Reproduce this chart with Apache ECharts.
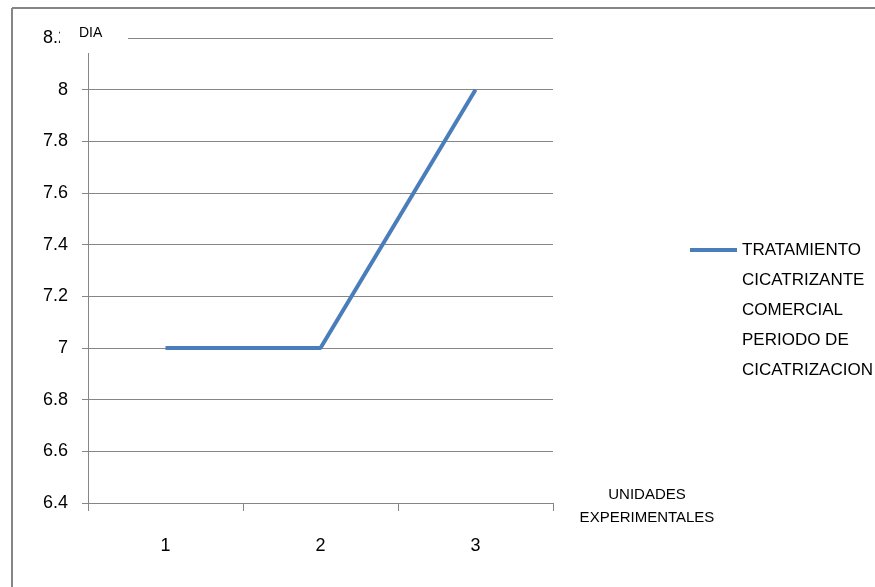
<!DOCTYPE html>
<html>
<head>
<meta charset="utf-8">
<script src="https://cdn.jsdelivr.net/npm/echarts@6/dist/echarts.min.js"></script>
<style>html,body{margin:0;padding:0;background:#fff}#c{width:875px;height:587px}</style>
</head>
<body>
<div id="c"></div>
<script>
var categories = ['1', '2', '3'];
var seriesName = 'TRATAMIENTO\nCICATRIZANTE\nCOMERCIAL\nPERIODO DE\nCICATRIZACION';
var values = [7, 7, 8];
var yMin = 6.4, yMax = 8.2, yStep = 0.2;

var chart = echarts.init(document.getElementById('c'));
var F = 'Liberation Sans, Arial, sans-serif';
chart.setOption({
  animation: false,
  backgroundColor: '#fff',
  grid: { left: 88, right: 322, top: 38, bottom: 84, containLabel: false },
  xAxis: {
    type: 'category', data: categories, boundaryGap: true,
    axisLine: { lineStyle: { color: '#868686', width: 1 } },
    axisTick: { show: true, length: 8, lineStyle: { color: '#868686' } },
    axisLabel: { margin: 34, fontSize: 18, color: '#000', fontFamily: F },
    splitLine: { show: false }
  },
  yAxis: {
    type: 'value', min: yMin, max: yMax, interval: yStep,
    axisLine: { show: true, lineStyle: { color: '#868686', width: 1 } },
    axisTick: { show: true, length: 6, lineStyle: { color: '#868686' } },
    axisLabel: { margin: 20, fontSize: 18, color: '#000', fontFamily: F,
      formatter: function (v) { return String(Math.round(v * 10) / 10); } },
    splitLine: { show: true, lineStyle: { color: '#868686', width: 1 } }
  },
  legend: {
    left: 685, top: 230, orient: 'vertical',
    itemWidth: 47, itemHeight: 150,
    icon: 'path://M0,13L47,13L47,17L0,17Z M0,0L0.01,0L0.01,0.01Z M0,150L0.01,150L0.01,149.99Z',
    data: [seriesName],
    itemStyle: { color: '#4a7ebb' },
    textStyle: { fontSize: 17, color: '#000', fontFamily: F, lineHeight: 30 }
  },
  series: [{
    name: seriesName, type: 'line', data: values,
    showSymbol: false, symbol: 'none',
    lineStyle: { color: '#4a7ebb', width: 4 },
    itemStyle: { color: '#4a7ebb' }
  }],
  graphic: [
    { type: 'line', shape: { x1: 12, y1: 8, x2: 875, y2: 8 }, style: { stroke: '#868686', lineWidth: 2 }, z: 100 },
    { type: 'line', shape: { x1: 12, y1: 8, x2: 12, y2: 587 }, style: { stroke: '#868686', lineWidth: 2 }, z: 100 },
    { type: 'rect', shape: { x: 60, y: 20, width: 68, height: 33 }, style: { fill: '#fff' }, z: 100 },
    { type: 'text', x: 79, y: 26, style: { text: 'DIA', fontSize: 14, fill: '#000', fontFamily: F }, z: 101 },
    { type: 'text', x: 647, y: 483, style: { text: 'UNIDADES\nEXPERIMENTALES', fontSize: 15, lineHeight: 23, align: 'center', fill: '#000', fontFamily: F }, z: 101 }
  ]
});
</script>
</body>
</html>
